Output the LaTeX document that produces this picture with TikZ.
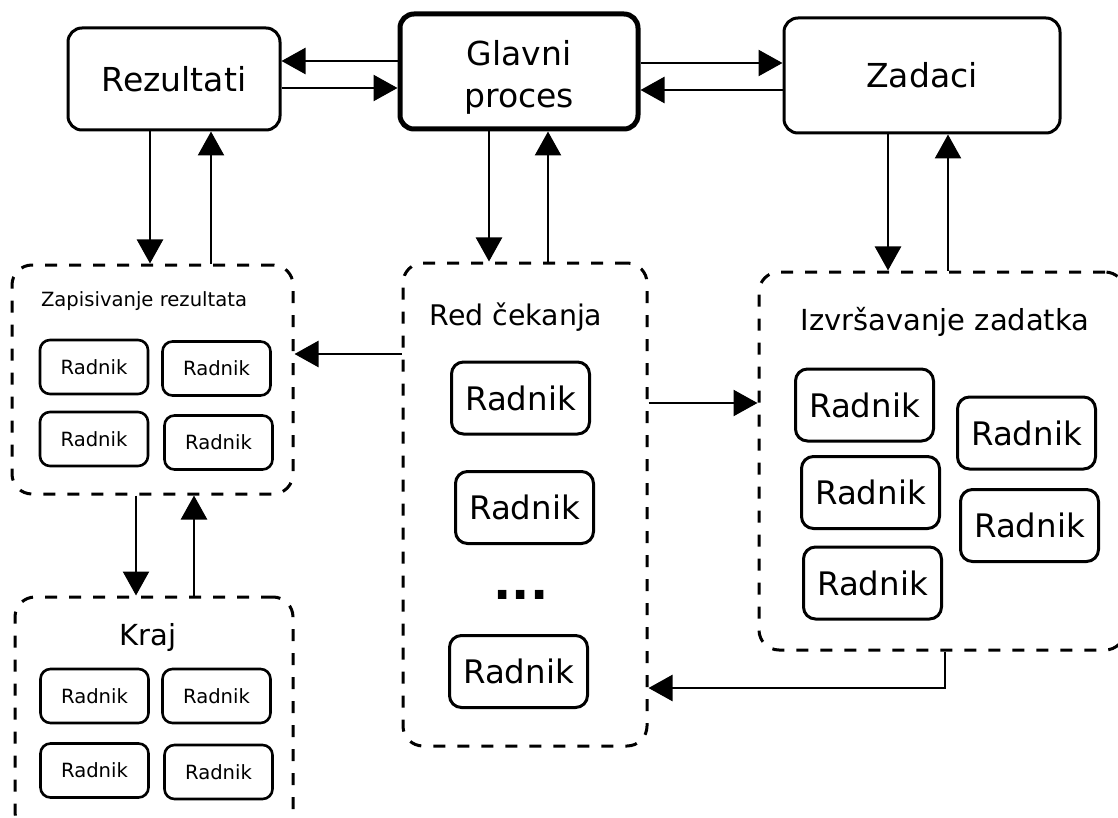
\documentclass[tikz,border=0pt]{standalone}
\usepackage{fontspec}
\setmainfont{DejaVu Sans}
\usetikzlibrary{arrows.meta}

\tikzset{
  proc/.style={draw, line width=1.5pt, rounded corners=7pt, align=center,
    font=\fontsize{16.5}{21}\selectfont},
  grp/.style={draw, line width=1.5pt, rounded corners=10pt,
    dash pattern=on 6pt off 6pt},
  radnik/.style={draw, line width=1.5pt, rounded corners=6pt,
    minimum width=69pt, minimum height=36pt, font=\fontsize{16.2}{19}\selectfont},
  malired/.style={draw, line width=1.3pt, rounded corners=5pt,
    minimum width=54pt, minimum height=27pt, font=\fontsize{9.8}{12}\selectfont},
  arr/.style={-{Triangle[length=12pt,width=13pt]}, line width=1.25pt},
}

\begin{document}
\begin{tikzpicture}[x=0.5pt,y=-0.5pt]
\clip (0,0) rectangle (1118,818);

% gornji red
\node[proc, minimum width=106pt, minimum height=51pt] (rez) at (174,79) {Rezultati};
\node[proc, line width=2.5pt, minimum width=119pt, minimum height=57.5pt] (glavni) at (519,71.5) {};
\node[align=center, font=\fontsize{16.5}{21}\selectfont] (glavnitekst) at (519,77) {Glavni\\proces};
\node[proc, minimum width=138pt, minimum height=57.5pt] (zad) at (922,75.5) {Zadaci};

% zapisivanje rezultata
\node[grp, minimum width=140.5pt, minimum height=114.5pt] (zap) at (152.5,379.5) {};
\node[font=\fontsize{9.8}{12}\selectfont] (zapnaslov) at (144,301) {Zapisivanje rezultata};
\node[malired] (zap1) at (94,367) {Radnik};
\node[malired] (zap2) at (216.5,368.5) {Radnik};
\node[malired] (zap3) at (94,439) {Radnik};
\node[malired] (zap4) at (218.5,442.5) {Radnik};

% kraj
\node[grp, minimum width=139pt, minimum height=117.5pt] (kraj) at (154,714.5) {};
\node[font=\fontsize{14.5}{17}\selectfont] (krajnaslov) at (148,637) {Kraj};
\node[malired] (kraj1) at (94.5,696) {Radnik};
\node[malired] (kraj2) at (216.5,696) {Radnik};
\node[malired] (kraj3) at (94.5,770.5) {Radnik};
\node[malired] (kraj4) at (218.5,772) {Radnik};

% red cekanja
\node[grp, minimum width=122pt, minimum height=241.5pt] (red) at (525,504.5) {};
\node[font=\fontsize{14.2}{17}\selectfont] (rednaslov) at (516,317) {Red čekanja};
\node[radnik] (red1) at (520.5,398) {Radnik};
\node[radnik] (red2) at (524.5,507.5) {Radnik};
\node[font=\fontsize{24}{28}\selectfont\bfseries] (redtocke) at (521,595) {...};
\node[radnik] (red3) at (518.5,671.5) {Radnik};

% izvrsavanje zadatka
\node[grp, minimum width=183pt, minimum height=189pt] (izv) at (942,461) {};
\node[font=\fontsize{14.5}{17}\selectfont] (izvnaslov) at (945,322) {Izvršavanje zadatka};
\node[radnik] (izv1) at (864.5,405) {Radnik};
\node[radnik] (izv2) at (870.5,492.5) {Radnik};
\node[radnik] (izv3) at (872.5,583) {Radnik};
\node[radnik] (izv4) at (1026.5,433) {Radnik};
\node[radnik] (izv5) at (1029.5,525.5) {Radnik};

% veze
\draw[arr] (glavni.west |- 0,61) -- (rez.east |- 0,61);
\draw[arr] (rez.east |- 0,88) -- (glavni.west |- 0,88);
\draw[arr] (glavni.east |- 0,63) -- (zad.west |- 0,63);
\draw[arr] (zad.west |- 0,90) -- (glavni.east |- 0,90);

\draw[arr] (rez.south -| 150,0) -- (zap.north -| 150,0);
\draw[arr] (zap.north -| 211,0) -- (rez.south -| 211,0);
\draw[arr] (glavni.south -| 489,0) -- (red.north -| 489,0);
\draw[arr] (red.north -| 548,0) -- (glavni.south -| 548,0);
\draw[arr] (zad.south -| 888,0) -- (izv.north -| 888,0);
\draw[arr] (izv.north -| 948,0) -- (zad.south -| 948,0);

\draw[arr] (red.west |- 0,354) -- (zap.east |- 0,354);
\draw[arr] (red.east |- 0,403) -- (izv.west |- 0,403);
\draw[arr] (izv.south -| 945,0) |- (red.east |- 0,688);

\draw[arr] (zap.south -| 136,0) -- (kraj.north -| 136,0);
\draw[arr] (kraj.north -| 194,0) -- (zap.south -| 194,0);

\end{tikzpicture}
\end{document}
